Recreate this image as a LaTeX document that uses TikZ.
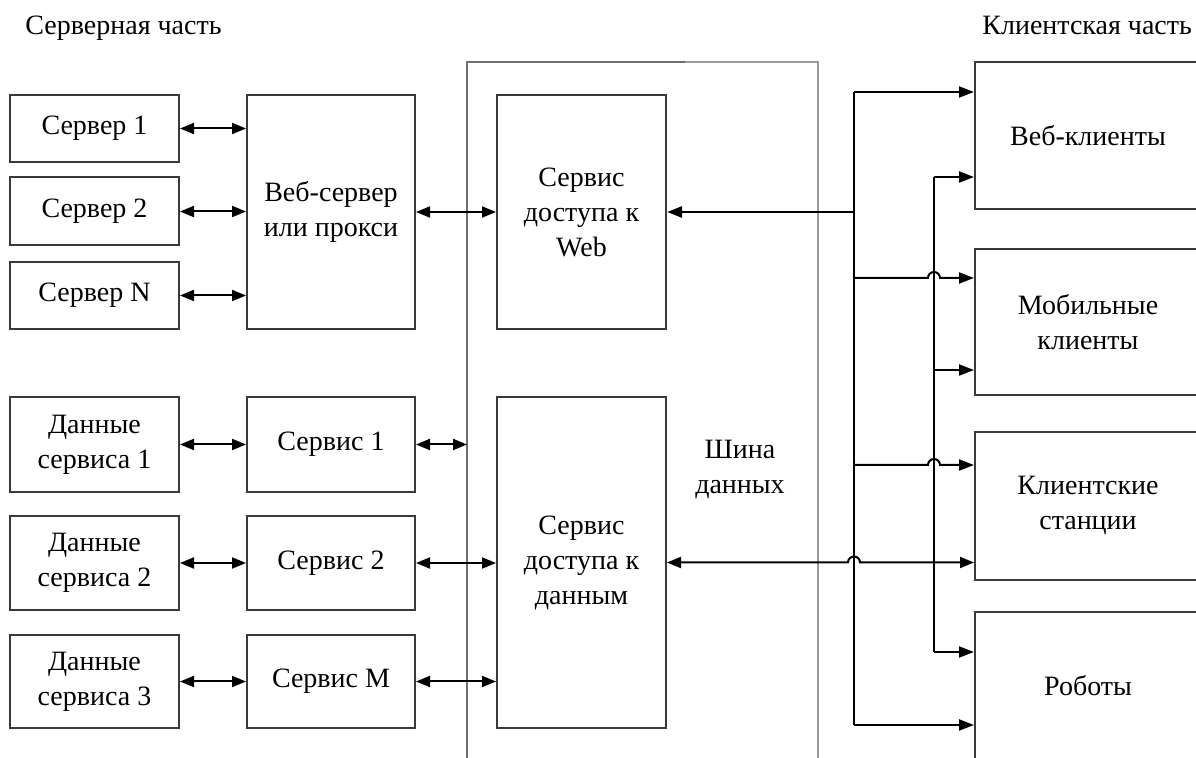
\documentclass[tikz,border=0pt]{standalone}
\usepackage{fontspec}
\setmainfont{Liberation Serif}
\usetikzlibrary{arrows.meta,calc}
\definecolor{boxgray}{HTML}{3A3A3A}
\definecolor{busgray}{HTML}{6E6E6E}
\definecolor{buslight}{HTML}{9A9A9A}
\begin{document}
\begin{tikzpicture}[x=0.5pt,y=-0.5pt,
  every node/.style={font=\fontsize{14}{17.5}\selectfont},
  box/.style={draw=boxgray, line width=1pt, align=center, inner sep=0pt},
  tip/.style={Triangle[length=7pt,width=5.5pt]},
  conn/.style={line width=1pt, {Triangle[length=7pt,width=5.5pt]}-{Triangle[length=7pt,width=5.5pt]}},
  arr/.style={line width=1pt, -{Triangle[length=7.5pt,width=5.5pt]}},
  plain/.style={line width=1pt},
  lbl/.style={align=center, inner sep=0pt}]
\useasboundingbox (0,0) rectangle (1196,758);
\fill[white] (0,0) rectangle (1196,758);
\clip (0,0) rectangle (1196,758);

% data bus
\coordinate (busL) at (467,62);
\coordinate (busR) at (818,62);
\draw[busgray, line width=1pt] (467,762) -- (busL) -- (685,62);
\draw[buslight, line width=1pt] (685,62) -- (busR) -- (818,762);

% titles
\node[anchor=base west, inner sep=0pt] (tserv) at (25,35) {Серверная часть};
\node[anchor=base west, inner sep=0pt] (tcli) at (982,35) {Клиентская часть};
\node[lbl] (bus) at (740,470) {Шина\\данных};

% server side
\node[box, minimum width=84.5pt, minimum height=33.5pt] (s1) at (94.5,128.5) {Сервер 1};
\node[box, minimum width=84.5pt, minimum height=34pt] (s2) at (94.5,211.5) {Сервер 2};
\node[box, minimum width=84.5pt, minimum height=33.5pt] (sN) at (94.5,295.5) {Сервер N};
\node[box, minimum width=84pt, minimum height=117pt] (ws) at (331,212) {Веб-сервер\\или прокси};
\node[box, minimum width=84.5pt, minimum height=117pt] (wa) at (581.5,212) {Сервис\\доступа к\\Web};

\node[box, minimum width=84.5pt, minimum height=47.5pt] (d1) at (94.5,444.5) {Данные\\сервиса 1};
\node[box, minimum width=84.5pt, minimum height=47pt] (d2) at (94.5,563) {Данные\\сервиса 2};
\node[box, minimum width=84.5pt, minimum height=46.5pt] (d3) at (94.5,681.5) {Данные\\сервиса 3};
\node[box, minimum width=84pt, minimum height=47.5pt] (sv1) at (331,444.5) {Сервис 1};
\node[box, minimum width=84pt, minimum height=47pt] (sv2) at (331,563) {Сервис 2};
\node[box, minimum width=84pt, minimum height=46.5pt] (svM) at (331,681.5) {Сервис M};
\node[box, minimum width=84.5pt, minimum height=165.5pt] (da) at (581.5,562.5) {Сервис\\доступа к\\данным};

% client side
\node[box, minimum width=113pt, minimum height=73.5pt] (wc) at (1088,135.5) {Веб-клиенты};
\node[box, minimum width=113pt, minimum height=73pt] (mc) at (1088,322) {Мобильные\\клиенты};
\node[box, minimum width=113pt, minimum height=74pt] (cs) at (1088,506) {Клиентские\\станции};
\node[box, minimum width=113pt, minimum height=74pt] (rb) at (1088,686) {Роботы};

% server-side connectors
\draw[conn] (s1.east) -- (s1.east -| ws.west);
\draw[conn] (s2.east) -- (s2.east -| ws.west);
\draw[conn] (sN.east) -- (sN.east -| ws.west);
\draw[conn] (ws.east) -- (wa.west);
\draw[conn] (d1.east) -- (sv1.west);
\draw[conn] (d2.east) -- (sv2.west);
\draw[conn] (d3.east) -- (svM.west);
\draw[conn] (sv1.east) -- (sv1.east -| busL);
\draw[conn] (sv2.east) -- (sv2.east -| da.west);
\draw[conn] (svM.east) -- (svM.east -| da.west);

% client-side trunks
\coordinate (t1a) at (854,92);
\coordinate (t1w) at (854,212);
\coordinate (t1b) at (854,278);
\coordinate (t1c) at (854,465);
\coordinate (t1d) at (854,725);
\coordinate (t2a) at (934,177);
\coordinate (t2b) at (934,370);
\coordinate (t2c) at (934,652);

\draw[plain] (t1a) -- (t1d);
\draw[plain] (t2a) -- (t2c);
\draw[line width=1.3pt, -{Triangle[length=7.5pt,width=5.5pt]}] (t1w) -- (wa.east);

\draw[arr] (t1a) -- (t1a -| wc.west);
\draw[arr] (t1b) -- ($(t1b -| t2a)+(-6,0)$) arc[start angle=180, end angle=0, radius=3pt] -- (t1b -| mc.west);
\draw[arr] (t1c) -- ($(t1c -| t2a)+(-6,0)$) arc[start angle=180, end angle=0, radius=3pt] -- (t1c -| cs.west);
\draw[arr] (t1d) -- (t1d -| rb.west);

\draw[arr] (t2a) -- (t2a -| wc.west);
\draw[arr] (t2b) -- (t2b -| mc.west);
\draw[arr] (t2c) -- (t2c -| rb.west);

\draw[conn] (da.east) -- ($(da.east -| t1a)+(-6,0)$) arc[start angle=180, end angle=0, radius=3pt] -- (da.east -| cs.west);
\end{tikzpicture}
\end{document}
